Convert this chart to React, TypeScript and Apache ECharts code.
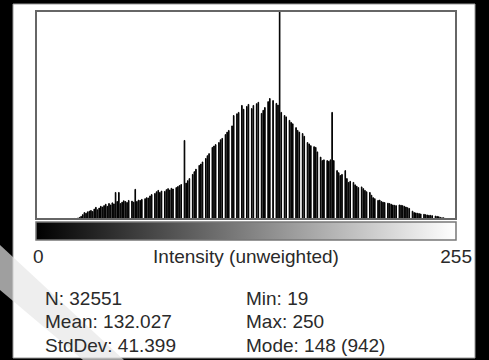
import React, { useEffect, useRef } from "react";
import * as echarts from "echarts";

const BIN_LABELS: string[] = Array.from({ length: 256 }, (_, i) => String(i));

const COUNTS: number[] = [
  0, 0, 0, 0, 0, 0, 0, 0, 0, 0, 0, 0, 0, 0, 0, 0, 0, 0, 0, 1,
  0, 2, 1, 3, 2, 4, 6, 9, 14, 20,
  18, 22, 24, 26, 23, 30, 35, 28, 33, 38,
  36, 40, 44, 38, 46, 42, 48, 45, 78, 52,
  78, 46, 50, 54, 52, 49, 55, 0, 53, 50,
  87, 52, 56, 55, 58, 0, 60, 63, 62, 68,
  72, 0, 75, 80, 84, 78, 82, 0, 81, 86,
  89, 85, 90, 88, 0, 92, 95, 98, 101, 0,
  228, 105, 112, 118, 0, 130, 138, 145, 0, 156,
  160, 166, 0, 176, 184, 190, 0, 208, 212, 216,
  0, 222, 230, 234, 0, 245, 252, 257, 0, 270,
  300, 0, 305, 309, 0, 329, 318, 0, 326, 332,
  0, 320, 329, 0, 334, 338, 0, 306, 315, 323,
  0, 340, 349, 0, 343, 0, 335, 330, 942, 309,
  0, 300, 296, 0, 286, 280, 276, 0, 265, 257,
  252, 0, 248, 240, 0, 222, 218, 213, 0, 210,
  208, 195, 0, 180, 170, 172, 0, 170, 168, 172,
  309, 170, 0, 141, 135, 127, 130, 0, 141, 118,
  107, 110, 0, 107, 100, 96, 92, 0, 94, 89,
  84, 80, 0, 78, 70, 63, 60, 0, 55, 56,
  52, 50, 49, 0, 47, 46, 44, 42, 41, 40,
  0, 42, 41, 40, 38, 36, 34, 32, 0, 24,
  20, 19, 18, 17, 16, 0, 15, 14, 13, 12,
  12, 11, 0, 10, 9, 8, 6, 5, 5, 3,
  2, 0, 0, 0, 0, 0,
];

const AXIS_TITLE = "Intensity (unweighted)";
const AXIS_MIN_LABEL = "0";
const AXIS_MAX_LABEL = "255";
const STATS_LEFT = ["N: 32551", "Mean: 132.027", "StdDev: 41.399"];
const STATS_RIGHT = ["Min: 19", "Max: 250", "Mode: 148 (942)"];
const Y_MAX = 600;

const FONT = '"Liberation Sans", Arial, sans-serif';

export default function App() {
  const ref = useRef<HTMLDivElement>(null);

  useEffect(() => {
    if (!ref.current) return;
    const chart = echarts.init(ref.current, undefined, { renderer: "svg" });

    const textStyle = (x: number, y: number, text: string, align: string) => ({
      type: "text",
      z: 20,
      style: {
        x,
        y,
        text,
        fill: "#2a2a2a",
        font: `19px ${FONT}`,
        textAlign: align,
        textVerticalAlign: "middle",
      },
    });

    const graphics: any[] = [
      {
        type: "rect",
        z: 0,
        shape: { x: 13, y: 4, width: 462, height: 354 },
        style: { fill: "#fff", stroke: "#999", lineWidth: 1 },
      },
      {
        type: "polygon",
        z: 1,
        shape: { points: [[0, 245], [124, 360], [83, 360], [0, 290]] },
        style: { fill: "rgba(230,230,230,0.69)" },
      },
      {
        type: "rect",
        z: 15,
        shape: { x: 36, y: 11, width: 420, height: 208 },
        style: { fill: "none", stroke: "#666", lineWidth: 2 },
      },
      {
        type: "rect",
        z: 15,
        shape: { x: 36, y: 222, width: 420, height: 18 },
        style: {
          fill: new echarts.graphic.LinearGradient(0, 0, 1, 0, [
            { offset: 0, color: "#000" },
            { offset: 1, color: "#fff" },
          ]),
          stroke: "#777",
          lineWidth: 1.5,
        },
      },
      textStyle(33, 256, AXIS_MIN_LABEL, "left"),
      textStyle(246, 256, AXIS_TITLE, "center"),
      textStyle(472, 256, AXIS_MAX_LABEL, "right"),
    ];
    const rowsY = [298, 321, 345];
    STATS_LEFT.forEach((t, i) => graphics.push(textStyle(45, rowsY[i], t, "left")));
    STATS_RIGHT.forEach((t, i) => graphics.push(textStyle(246, rowsY[i], t, "left")));

    chart.setOption({
      animation: false,
      backgroundColor: "#000",
      grid: { left: 36, top: 11, width: 420, height: 208, containLabel: false },
      xAxis: {
        type: "category",
        data: BIN_LABELS,
        boundaryGap: true,
        axisLine: { show: false },
        axisTick: { show: false },
        axisLabel: { show: false },
        splitLine: { show: false },
      },
      yAxis: {
        type: "value",
        min: 0,
        max: Y_MAX,
        axisLine: { show: false },
        axisTick: { show: false },
        axisLabel: { show: false },
        splitLine: { show: false },
      },
      series: [
        {
          type: "bar",
          data: COUNTS,
          barCategoryGap: "0%",
          barWidth: "100%",
          clip: true,
          z: 10,
          itemStyle: { color: "#000", borderColor: "#000", borderWidth: 1 },
          silent: true,
        },
      ],
      graphic: graphics,
    });

    return () => chart.dispose();
  }, []);

  return (
    <div
      ref={ref}
      style={{
        position: "fixed",
        left: 0,
        top: 0,
        width: 489,
        height: 360,
        background: "#000",
      }}
    />
  );
}
